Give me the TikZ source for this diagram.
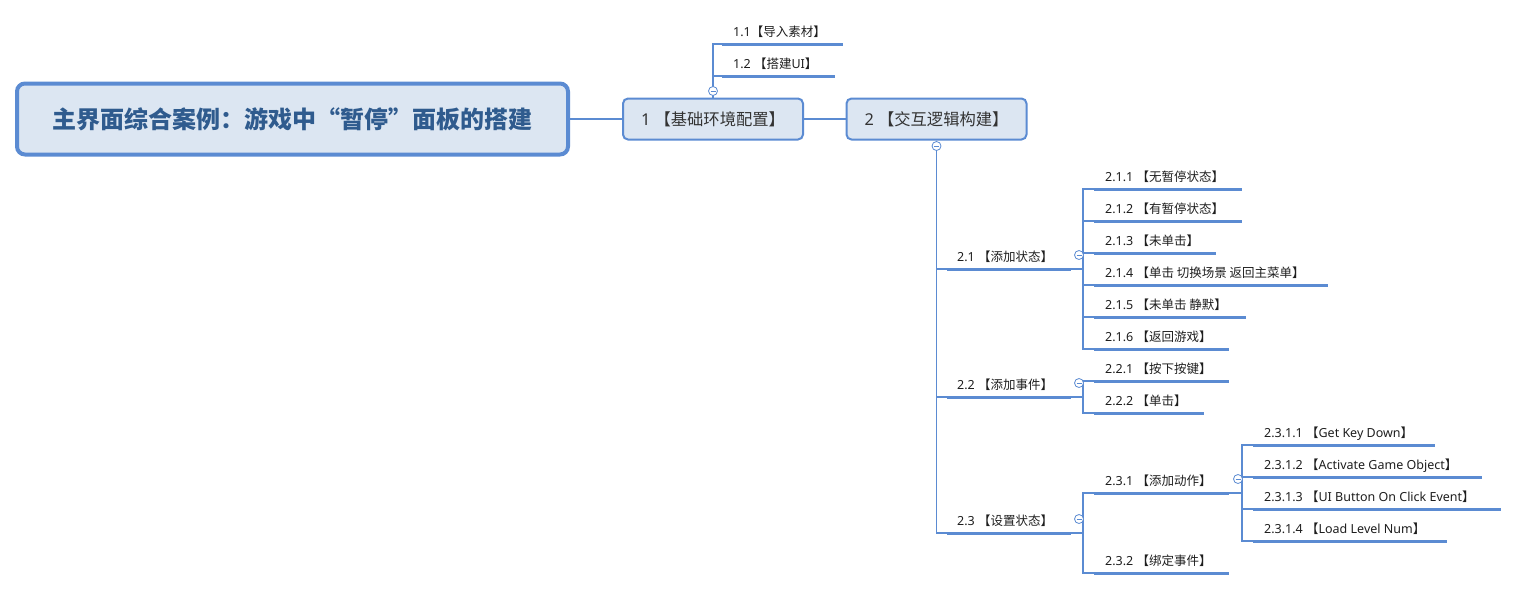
\documentclass[tikz,border=0pt]{standalone}
\usepackage{fontspec}
\setmainfont{Noto Sans}
\newfontfamily\cjk{Noto Sans CJK SC}
\definecolor{lineblue}{HTML}{5B8BD2}
\definecolor{boxfill}{HTML}{DCE6F2}
\definecolor{roottext}{HTML}{2F5B8E}
\definecolor{txt}{HTML}{1E1E1E}
\definecolor{maintxt}{HTML}{333333}
\begin{document}
\begin{tikzpicture}[x=1pt,y=-1pt,
  conn/.style={draw=lineblue, line width=1.1pt},
  uline/.style={draw=lineblue, line width=3pt},
  lbl/.style={anchor=base west, inner sep=0pt, font=\fontsize{12.5}{14}\selectfont, text=txt},
  mainbox/.style={draw=lineblue, fill=boxfill, line width=2pt, rounded corners=5pt,
    minimum width=180pt, minimum height=41pt, inner sep=0pt, font=\fontsize{16.3}{19}\selectfont, text=maintxt},
  rootbox/.style={draw=lineblue, fill=boxfill, line width=4pt, rounded corners=8pt,
    minimum width=551pt, minimum height=71pt, inner sep=0pt, font=\cjk\bfseries\fontsize{24}{28}\selectfont, text=roottext},
  fold/.style={circle, draw=lineblue, fill=white, line width=0.8pt, minimum size=9pt, inner sep=0pt,
    path picture={\draw[lineblue, line width=0.8pt] ([xshift=-2.5pt]path picture bounding box.center) -- ([xshift=2.5pt]path picture bounding box.center);}}
]
\useasboundingbox (0,0) rectangle (1519,590);

% main nodes
\node[rootbox] (root) at (292.5,119) {主界面综合案例：游戏中“暂停”面板的搭建};
\node[mainbox] (n1) at (713,119) {1 {\cjk 【基础环境配置】}};
\node[mainbox] (n2) at (936.5,119) {2 {\cjk 【交互逻辑构建】}};

% topics: label + underline coordinates
\newcommand{\topic}[6]{%
  \node[lbl] (t#1) at (#2,#3-8) {#6};
  \path (#4,#3) coordinate (u#1a) (#5,#3) coordinate (u#1b);
}
\topic{11}{733}{44}{722}{843}{1.1{\cjk 【导入素材】}}
\topic{12}{733}{76}{722}{835}{1.2 {\cjk 【搭建}UI{\cjk 】}}
\topic{21}{957}{269}{947}{1071}{2.1 {\cjk 【添加状态】}}
\topic{22}{957}{397}{947}{1071}{2.2 {\cjk 【添加事件】}}
\topic{23}{957}{533}{947}{1071}{2.3 {\cjk 【设置状态】}}
\topic{211}{1105}{189}{1094}{1242}{2.1.1 {\cjk 【无暂停状态】}}
\topic{212}{1105}{221}{1094}{1242}{2.1.2 {\cjk 【有暂停状态】}}
\topic{213}{1105}{253}{1094}{1216}{2.1.3 {\cjk 【未单击】}}
\topic{214}{1105}{285}{1094}{1328}{2.1.4 {\cjk 【单击 切换场景 返回主菜单】}}
\topic{215}{1105}{317}{1094}{1246}{2.1.5 {\cjk 【未单击 静默】}}
\topic{216}{1105}{349}{1094}{1229}{2.1.6 {\cjk 【返回游戏】}}
\topic{221}{1105}{381}{1094}{1229}{2.2.1 {\cjk 【按下按键】}}
\topic{222}{1105}{413}{1094}{1204}{2.2.2 {\cjk 【单击】}}
\topic{231}{1105}{493}{1094}{1229}{2.3.1 {\cjk 【添加动作】}}
\topic{232}{1105}{573}{1094}{1229}{2.3.2 {\cjk 【绑定事件】}}
\topic{2311}{1264}{445}{1253}{1435}{2.3.1.1 {\cjk 【}Get Key Down{\cjk 】}}
\topic{2312}{1264}{477}{1253}{1482}{2.3.1.2 {\cjk 【}Activate Game Object{\cjk 】}}
\topic{2313}{1264}{509}{1253}{1501}{2.3.1.3 {\cjk 【}UI Button On Click Event{\cjk 】}}
\topic{2314}{1264}{541}{1253}{1447}{2.3.1.4 {\cjk 【}Load Level Num{\cjk 】}}

% connectors
\draw[conn] (root.east) -- (n1.west);
\draw[conn] (n1.east) -- (n2.west);
\foreach \c in {11,12} \draw[conn] (n1.north) |- (u\c a);
\foreach \c in {21,22,23} \draw[conn] (n2.south) |- (u\c a);
\foreach \c in {211,212,213,214,215,216} \draw[conn] (u21b) -- ++(12,0) |- (u\c a);
\foreach \c in {221,222} \draw[conn] (u22b) -- ++(12,0) |- (u\c a);
\foreach \c in {231,232} \draw[conn] (u23b) -- ++(12,0) |- (u\c a);
\foreach \c in {2311,2312,2313,2314} \draw[conn] (u231b) -- ++(13,0) |- (u\c a);

% underlines
\foreach \c in {11,12,21,22,23,211,212,213,214,215,216,221,222,231,232,2311,2312,2313,2314}
  \draw[uline] (u\c a) -- (u\c b);

% fold buttons
\node[fold] (f1) at (713,91) {};
\node[fold] (f2) at (936.5,146) {};
\node[fold] (f21) at (1079,255) {};
\node[fold] (f22) at (1079,383) {};
\node[fold] (f23) at (1079,519) {};
\node[fold] (f231) at (1238,479) {};
\end{tikzpicture}
\end{document}
